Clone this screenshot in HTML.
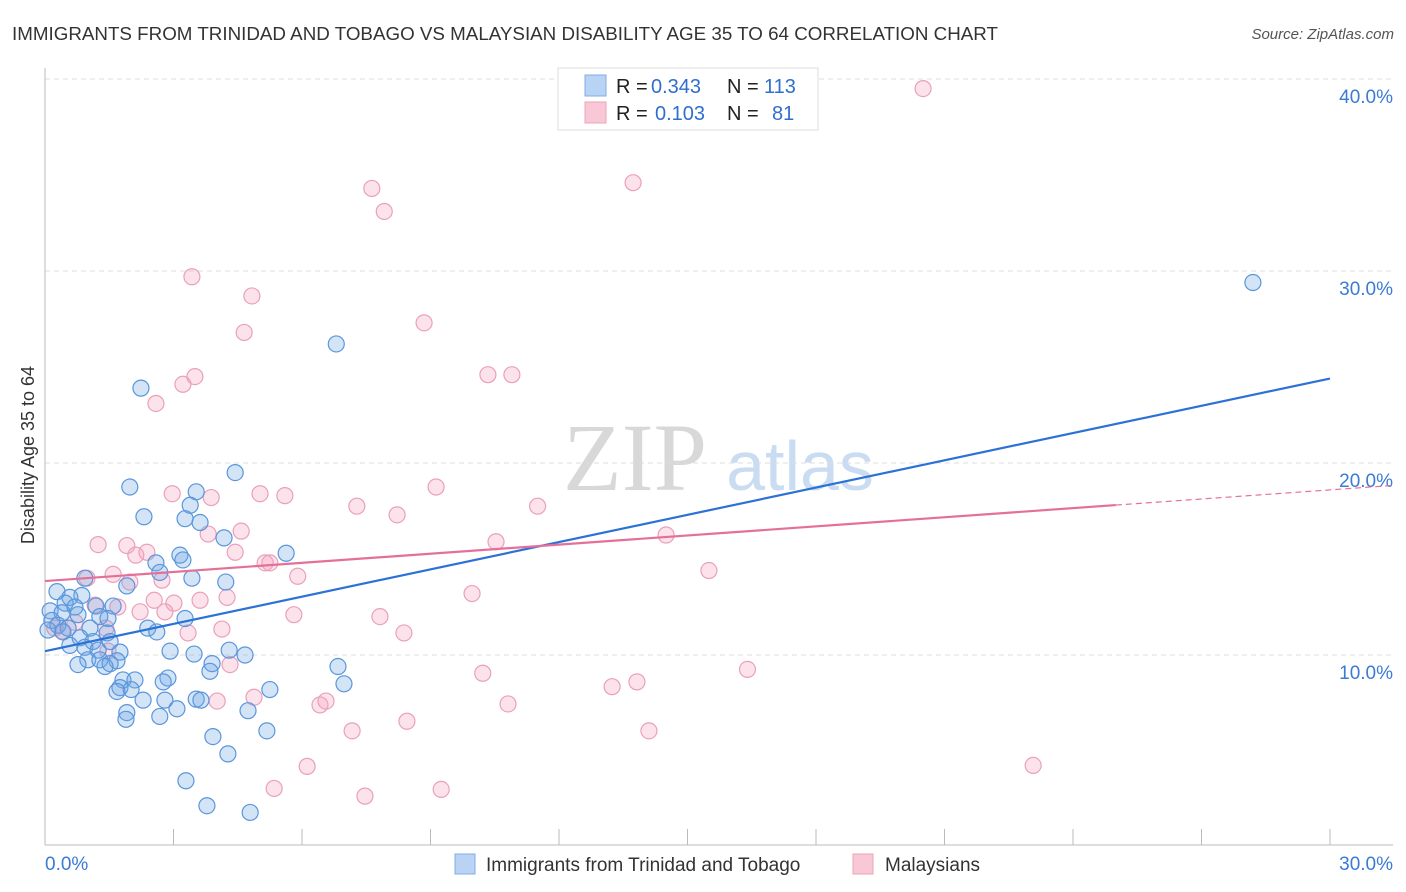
<!DOCTYPE html>
<html><head><meta charset="utf-8"><style>
body{margin:0;background:#fff;font-family:"Liberation Sans",sans-serif;}
svg{display:block}
</style></head><body>
<svg id="chart" width="1406" height="892">
<text x="12" y="40" font-size="18" fill="#333" textLength="986" lengthAdjust="spacingAndGlyphs">IMMIGRANTS FROM TRINIDAD AND TOBAGO VS MALAYSIAN DISABILITY AGE 35 TO 64 CORRELATION CHART</text>
<text x="1394" y="39" font-size="15" fill="#555" font-style="italic" text-anchor="end">Source: ZipAtlas.com</text>
<g>
<text x="635" y="490" font-size="96" font-family="Liberation Serif,serif" fill="#d8d8d8" text-anchor="middle">ZIP</text>
<text x="800" y="490" font-size="70" fill="#c9dcf2" text-anchor="middle">atlas</text>
</g>
<g id="grid"></g>
<g id="axes"></g>
<g id="pts"></g>
<g id="trend"></g>
<text transform="translate(34,455) rotate(-90)" font-size="18" fill="#333" text-anchor="middle">Disability Age 35 to 64</text>
<g>
<rect x="558" y="68" width="260" height="62" fill="#fff" stroke="#ddd"/>
<rect x="585" y="75" width="21" height="21" fill="#b8d3f3" stroke="#80aee6"/>
<rect x="585" y="102" width="21" height="21" fill="#f8c8d7" stroke="#eba3bb"/>
<text x="616" y="93" font-size="20" fill="#222">R =</text>
<text x="651" y="93" font-size="20" fill="#2f6fcc">0.343</text>
<text x="727" y="93" font-size="20" fill="#222">N =</text>
<text x="764" y="93" font-size="20" fill="#2f6fcc">113</text>
<text x="616" y="120" font-size="20" fill="#222">R =</text>
<text x="655" y="120" font-size="20" fill="#2f6fcc">0.103</text>
<text x="727" y="120" font-size="20" fill="#222">N =</text>
<text x="772" y="120" font-size="20" fill="#2f6fcc">81</text>
</g>
<g>
<rect x="455" y="854" width="20" height="20" fill="#b8d3f3" stroke="#80aee6"/>
<text x="486" y="871" font-size="19" fill="#333">Immigrants from Trinidad and Tobago</text>
<rect x="853" y="854" width="20" height="20" fill="#f8c8d7" stroke="#eba3bb"/>
<text x="885" y="871" font-size="19" fill="#333">Malaysians</text>
</g>
</svg>
<script>
const xTicks=[0,3,6,9,12,15,18,21,24,27,30];
const yTicks=[10,20,30,40];
const blueX=[28.2,6.8,2.24,4.44,1.98,3.53,3.39,2.31,3.27,3.62,4.18,5.63,3.15,3.22,2.59,2.68,3.43,4.22,0.93,1.91,0.28,0.86,0.58,0.47,0.70,1.19,1.59,0.12,0.40,0.77,1.28,1.47,3.27,0.16,0.30,0.54,1.05,0.07,0.42,2.4,2.61,1.45,0.82,1.12,0.58,1.52,0.93,1.24,1.75,2.92,3.48,4.3,4.67,1.0,1.28,1.68,0.77,1.52,1.4,3.9,6.84,3.85,2.87,1.82,2.1,2.76,6.98,1.75,2.01,1.68,5.25,2.8,2.29,3.53,3.64,3.08,4.74,1.91,2.68,1.89,5.18,3.92,4.27,3.29,3.78,4.79];
const blueY=[29.4,26.2,23.9,19.5,18.75,18.5,17.8,17.2,17.1,16.9,16.1,15.3,15.2,14.95,14.8,14.3,14.0,13.8,14.0,13.6,13.3,13.1,13.0,12.7,12.5,12.55,12.55,12.3,12.2,12.1,12.0,11.9,11.9,11.8,11.55,11.4,11.4,11.3,11.2,11.4,11.2,11.15,10.9,10.7,10.5,10.7,10.4,10.25,10.15,10.2,10.05,10.25,10.0,9.75,9.75,9.7,9.5,9.55,9.4,9.55,9.4,9.15,8.8,8.7,8.7,8.6,8.5,8.3,8.2,8.1,8.2,7.65,7.65,7.7,7.65,7.2,7.1,7.0,6.8,6.65,6.05,5.75,4.85,3.45,2.15,1.8];
const pinkX=[20.5,13.73,7.63,7.92,3.43,4.83,8.85,4.65,10.34,10.9,3.5,3.22,2.59,9.13,2.97,5.02,5.6,3.88,7.28,11.5,8.22,4.58,3.81,14.5,10.53,1.24,1.91,2.38,2.12,4.44,5.14,5.25,15.5,1.59,5.9,0.98,1.98,2.73,9.97,2.55,3.01,3.62,4.25,1.17,1.7,2.22,2.8,5.81,7.82,0.7,0.23,0.4,1.42,4.13,3.34,8.38,4.32,10.22,16.4,13.82,13.24,4.88,4.02,6.56,6.42,10.81,8.45,7.17,14.1,6.12,23.07,5.35,9.25,7.47,1.47];
const pinkY=[39.5,34.6,34.3,33.1,29.7,28.7,27.3,26.8,24.6,24.6,24.5,24.1,23.1,18.75,18.4,18.4,18.3,18.2,17.75,17.75,17.3,16.45,16.3,16.25,15.9,15.75,15.7,15.35,15.2,15.35,14.8,14.8,14.4,14.2,14.1,14.0,13.8,13.9,13.2,12.85,12.7,12.85,13.0,12.6,12.5,12.25,12.25,12.1,12.0,11.7,11.4,11.25,11.4,11.35,11.15,11.15,9.5,9.05,9.25,8.6,8.35,7.8,7.6,7.6,7.4,7.45,6.55,6.05,6.05,4.2,4.25,3.05,3.0,2.65,10.2];
const blueTrend=[10.2,24.4];
const pinkTrend=[13.85,18.6];
const pinkSolidEnd=25;
const NS="http://www.w3.org/2000/svg";
const X=v=>45+v*(1285/30);
const Y=v=>847-v*19.2;
function mk(tag,attrs,parent){const e=document.createElementNS(NS,tag);for(const k in attrs)e.setAttribute(k,attrs[k]);document.getElementById(parent).appendChild(e);return e;}
yTicks.forEach(t=>{
 const l=mk('line',{x1:45,x2:1393,y1:Y(t),y2:Y(t),stroke:'#ddd','stroke-dasharray':'5,4'},'grid');
 
 
 const tx=mk('text',{x:1393,y:Y(t)+24,'font-size':19,fill:'#3a7bd5','text-anchor':'end'},'axes');
 tx.textContent=t.toFixed(1)+'%';
 
 
});
const ax=mk('line',{x1:45,x2:45,y1:68,y2:845,stroke:'#bbb'},'axes');


const bx=mk('line',{x1:45,x2:1393,y1:845,y2:845,stroke:'#bbb'},'axes');


xTicks.forEach(t=>{
 const l=mk('line',{x1:X(t),x2:X(t),y1:829,y2:845,stroke:'#bbb'},'axes');
 
 
});
[[0,45,'start'],[30,1393,'end']].forEach(([v,x,a])=>{
 const tx=mk('text',{x:x,y:870,'font-size':19,fill:'#3a7bd5','text-anchor':a},'axes');
 tx.textContent=v.toFixed(1)+'%';
 
 
});
pinkX.forEach((v,i)=>{
 const c=mk('circle',{cx:X(v),cy:Y(pinkY[i]),r:8,fill:'rgba(244,160,190,0.3)',stroke:'#eaa0bb','stroke-width':1.2},'pts');
 
 
});
blueX.forEach((v,i)=>{
 const c=mk('circle',{cx:X(v),cy:Y(blueY[i]),r:8,fill:'rgba(110,165,230,0.3)',stroke:'#5a96dc','stroke-width':1.2},'pts');
 
 
});
const bt=mk('line',{x1:X(0),y1:Y(blueTrend[0]),x2:X(30),y2:Y(blueTrend[1]),stroke:'#2c72d6','stroke-width':2.2},'trend');


const py=x=>pinkTrend[0]+(pinkTrend[1]-pinkTrend[0])*x/30;
const pt=mk('line',{x1:X(0),y1:Y(py(0)),x2:X(pinkSolidEnd),y2:Y(py(pinkSolidEnd)),stroke:'#e4709a','stroke-width':2.2},'trend');


const pd=mk('line',{x1:X(pinkSolidEnd),y1:Y(py(pinkSolidEnd)),x2:1390,y2:Y(py(31.4)),stroke:'#e4709a','stroke-width':1.2,'stroke-dasharray':'6,4'},'trend');


</script>
</body></html>
